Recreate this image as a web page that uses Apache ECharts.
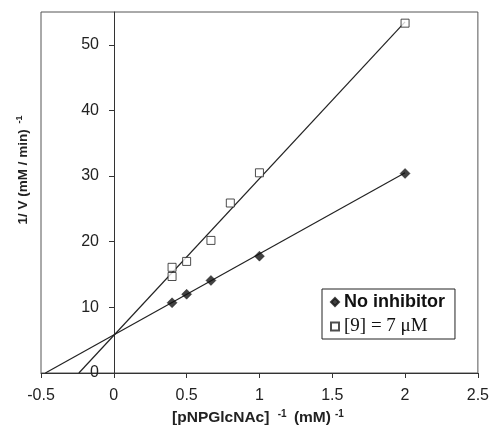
<!DOCTYPE html>
<html><head><meta charset="utf-8">
<script src="https://cdn.jsdelivr.net/npm/echarts@6/dist/echarts.min.js"></script>
<style>html,body{margin:0;padding:0;background:#fff}#c{width:492px;height:432px}</style>
</head><body><div id="c"></div>
<script>
// Data
const noInhX = [0.4, 0.5, 0.667, 1, 2];
const noInhY = [10.7, 12.0, 14.1, 17.8, 30.4];
const inhX = [0.4, 0.4, 0.5, 0.667, 0.8, 1, 2];
const inhY = [14.7, 16.1, 17.0, 20.2, 25.9, 30.5, 53.3];
// Fitted lines (endpoints)
const fitNoInh = [[-0.47, 0], [2, 30.5]];
const fitInh = [[-0.24, 0], [2, 53.5]];
const xTicks = [-0.5, 0, 0.5, 1, 1.5, 2, 2.5];
const yTicks = [0, 10, 20, 30, 40, 50];

const zip = (xs, ys) => xs.map((x, i) => [x, ys[i]]);
const chart = echarts.init(document.getElementById('c'));
chart.setOption({
  animation: false,
  grid: { left: 41, top: 12, right: 13, bottom: 59, show: true, borderColor: '#555', borderWidth: 1, backgroundColor: 'transparent' },
  xAxis: {
    type: 'value', min: -0.5, max: 2.5, interval: 0.5,
    axisLine: { show: true, lineStyle: { color: '#333', width: 1 } },
    axisTick: { show: true, length: 5, lineStyle: { color: '#333' } },
    axisLabel: { color: '#222', fontFamily: 'Liberation Sans, Arial', fontSize: 16, margin: 15,
      formatter: v => (xTicks.indexOf(v) >= 0 ? String(v) : '') },
    splitLine: { show: false },
    name: '{n|[pNPGlcNAc] }{s|-1}{n| (mM)}{s|-1}',
    nameLocation: 'middle', nameGap: 35,
    nameTextStyle: { rich: {
      n: { fontFamily: 'Liberation Sans, Arial', fontWeight: 'bold', fontSize: 15.5, color: '#222' },
      s: { fontFamily: 'Liberation Sans, Arial', fontWeight: 'bold', fontSize: 10, color: '#222', verticalAlign: 'top', padding: [0, 3, 8, 4] }
    } }
  },
  yAxis: {
    type: 'value', min: 0, max: 55, interval: 10, offset: -73,
    axisLine: { show: true, onZero: false, lineStyle: { color: '#333', width: 1 } },
    axisTick: { show: true, length: 5, lineStyle: { color: '#333' } },
    axisLabel: { color: '#222', fontFamily: 'Liberation Sans, Arial', fontSize: 16, margin: 15, showMaxLabel: false,
      formatter: v => (yTicks.indexOf(v) >= 0 ? String(v) : '') },
    splitLine: { show: false }
  },
  graphic: [{
    type: 'text', x: 23, y: 170, rotation: Math.PI / 2,
    style: {
      text: '{n|1/ V (mM / min) }{s|-1}',
      align: 'center', verticalAlign: 'middle',
      rich: {
        n: { fontFamily: 'Liberation Sans, Arial', fontWeight: 'bold', fontSize: 13.5, fill: '#222' },
        s: { fontFamily: 'Liberation Sans, Arial', fontWeight: 'bold', fontSize: 9, fill: '#222', verticalAlign: 'top', padding: [0, 0, 7, 2] }
      }
    }
  }],
  legend: {
    orient: 'vertical', left: 322, top: 289, data: ['No inhibitor', '[9] = 7 μM'],
    backgroundColor: '#fff', borderColor: '#222', borderWidth: 1, padding: [4, 10, 3, 8],
    itemWidth: 8, itemHeight: 8, itemGap: 6,
    formatter: n => n === 'No inhibitor' ? '{a|No inhibitor}' : '{b|[9] = 7 μM}',
    textStyle: { rich: {
      a: { fontFamily: 'Liberation Sans, Arial', fontWeight: 'bold', fontSize: 18, color: '#111', lineHeight: 24 },
      b: { fontFamily: 'Liberation Serif, Times New Roman', fontSize: 19, color: '#111', lineHeight: 24 }
    } }
  },
  series: [
    { type: 'line', data: fitNoInh, symbol: 'none', lineStyle: { color: '#222', width: 1.2 }, silent: true },
    { type: 'line', data: fitInh, symbol: 'none', lineStyle: { color: '#222', width: 1.2 }, silent: true },
    { name: 'No inhibitor', type: 'scatter', data: zip(noInhX, noInhY), symbol: 'diamond', symbolSize: 10,
      itemStyle: { color: '#111', borderColor: '#111', borderWidth: 0.5 }, z: 5 },
    { name: '[9] = 7 μM', type: 'scatter', data: zip(inhX, inhY), symbol: 'rect', symbolSize: 8,
      itemStyle: { color: '#fff', borderColor: '#222', borderWidth: 1 }, z: 5 }
  ]
});
</script></body></html>
